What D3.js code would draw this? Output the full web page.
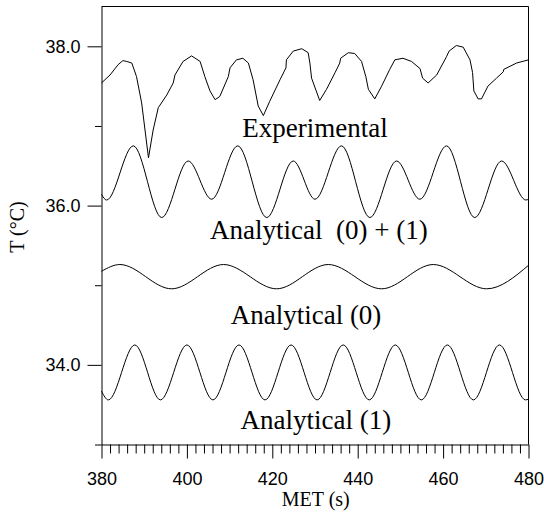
<!DOCTYPE html>
<html>
<head>
<meta charset="utf-8">
<script src="https://cdn.jsdelivr.net/npm/d3@7"></script>
<style>
    html, body { margin: 0; padding: 0; background: #fff; }
    svg { display: block; }
    .tick text { font-family: "Liberation Sans", Arial, sans-serif; font-size: 18px; fill: #000; }
    .title { font-family: "Liberation Serif", "Times New Roman", serif; fill: #000; }
</style>
</head>
<body>
<script>
// x ticks
const xMajor = [380, 400, 420, 440, 460, 480];
const xMinor = d3.range(382, 480, 2).filter(v => v % 20 !== 0);
// y ticks
const yMajor = [34, 36, 38];
const yMinor = [33, 35, 37];

// Experimental trace (MET s, T degC)
const expTime = [380, 382.0, 383.9, 385.0, 385.9, 387.1, 388.2, 389.4, 391.0, 392.1, 393.3, 395.3, 396.8, 397.2,
    399.1, 401.1, 403.1, 404.2, 405.4, 406.6, 407.7, 409.7, 410.1, 411.6, 413.1, 414.4, 415.5, 416.7, 417.9,
    419.4, 421.8, 423.2, 423.3, 424.9, 426.9, 428.4, 428.8, 429.2, 431.1, 432.7, 434.7, 435.8, 436.0, 437.8,
    439.3, 440.9, 441.9, 442.5, 444.0, 445.6, 447.5, 448.7, 450.6, 452.6, 454.6, 455.2, 456.5, 458.5, 460.8,
    461.4, 463.1, 464.7, 466.3, 466.9, 467.2, 468.2, 469.0, 470.5, 472.5, 474.1, 474.2, 477.2, 480];
const expTemp = [37.54, 37.64, 37.77, 37.82, 37.81, 37.79, 37.62, 37.29, 36.60, 36.95, 37.23, 37.39, 37.54, 37.64,
    37.81, 37.88, 37.81, 37.62, 37.44, 37.33, 37.37, 37.62, 37.73, 37.83, 37.85, 37.79, 37.58, 37.25, 37.13,
    37.31, 37.58, 37.73, 37.83, 37.94, 37.97, 37.92, 37.79, 37.60, 37.32, 37.46, 37.67, 37.79, 37.85, 37.92,
    37.91, 37.81, 37.62, 37.46, 37.34, 37.50, 37.71, 37.83, 37.85, 37.81, 37.72, 37.60, 37.54, 37.64, 37.87,
    37.94, 38.01, 37.99, 37.83, 37.67, 37.44, 37.34, 37.34, 37.50, 37.60, 37.68, 37.71, 37.79, 37.83];

// Analytical (0) + (1): turning points
const sumTime = [380, 381.2, 387.45, 394.1, 400.3, 405.8, 411.9, 418.7, 424.9, 430.0, 436.2, 442.85, 449.1,
    454.55, 460.8, 467.4, 473.7, 479.4, 480];
const sumTemp = [36.14, 36.07, 36.75, 35.85, 36.56, 36.08, 36.75, 35.85, 36.56, 36.08, 36.75, 35.85, 36.56,
    36.08, 36.75, 35.85, 36.56, 36.07, 36.08];

// Analytical (0): turning points
const a0Time = [380, 384.3, 396.4, 408.6, 421.0, 433.1, 445.6, 457.7, 470.2, 480];
const a0Temp = [35.175, 35.26, 34.955, 35.26, 34.955, 35.26, 34.955, 35.26, 34.955, 35.25];

// Analytical (1): turning points
const a1Time = [380, 381.6, 387.8, 393.8, 400.0, 406.1, 412.2, 418.3, 424.4, 430.5, 436.6, 442.7, 448.8,
    454.9, 461.0, 467.1, 473.2, 479.3, 480];
const a1Temp = [33.67, 33.56, 34.25, 33.56, 34.25, 33.56, 34.25, 33.56, 34.25, 33.56, 34.25, 33.56, 34.25,
    33.56, 34.25, 33.56, 34.25, 33.56, 33.57];

const labels = ["Experimental", "Analytical  (0) + (1)", "Analytical (0)", "Analytical (1)"];
const labelAt = [[430.0, 36.86], [430.9, 35.58], [427.9, 34.51], [430.2, 33.19]];

const width = 544;
const height = 513;
const margin = { left: 101.5, top: 6.5, right: 15.5, bottom: 68.5 };
const innerW = width - margin.left - margin.right;
const innerH = height - margin.top - margin.bottom;

const svg = d3.select("body")
    .append("svg")
    .attr("width", width)
    .attr("height", height);

const plot = svg.append("g")
    .attr("transform", `translate(${margin.left},${margin.top})`);

const scaleX = d3.scaleLinear().domain([380, 480]).range([0, innerW]);
const scaleY = d3.scaleLinear().domain([33, 38.5]).range([innerH, 0]);

// frame top and right
plot.append("path")
    .attr("d", `M0,0H${innerW}V${innerH}`)
    .attr("fill", "none")
    .attr("stroke", "#000")
    .attr("stroke-width", 1);

// x axis
plot.append("g")
    .attr("transform", `translate(0,${innerH})`)
    .call(d3.axisBottom(scaleX).tickValues(xMajor).tickFormat(d3.format("d"))
        .tickSize(14).tickSizeOuter(0).tickPadding(13.5));
plot.append("g")
    .attr("transform", `translate(0,${innerH})`)
    .call(d3.axisBottom(scaleX).tickValues(xMinor).tickFormat("").tickSize(9))
    .call(g => g.select(".domain").remove());

// y axis
plot.append("g")
    .call(d3.axisLeft(scaleY).tickValues(yMajor).tickFormat(d3.format(".1f"))
        .tickSize(14).tickSizeOuter(0).tickPadding(7));
plot.append("g")
    .call(d3.axisLeft(scaleY).tickValues(yMinor).tickFormat("").tickSize(6.5))
    .call(g => g.select(".domain").remove());

plot.selectAll(".domain, .tick line").attr("stroke", "#000");

// curves
const series = [
    { t: expTime, v: expTemp, curve: d3.curveLinear },
    { t: sumTime, v: sumTemp, curve: d3.curveMonotoneX },
    { t: a0Time, v: a0Temp, curve: d3.curveMonotoneX },
    { t: a1Time, v: a1Temp, curve: d3.curveMonotoneX }
];

series.forEach(s => {
    const line = d3.line()
        .x(d => scaleX(d[0]))
        .y(d => scaleY(d[1]))
        .curve(s.curve);
    plot.append("path")
        .datum(s.t.map((t, i) => [t, s.v[i]]))
        .attr("d", line)
        .attr("fill", "none")
        .attr("stroke", "#000")
        .attr("stroke-width", 1);
});

// series labels
plot.selectAll(".series-label")
    .data(labels)
    .enter()
    .append("text")
    .attr("class", "title series-label")
    .attr("x", (d, i) => scaleX(labelAt[i][0]))
    .attr("y", (d, i) => scaleY(labelAt[i][1]))
    .attr("text-anchor", "middle")
    .style("font-size", "27px")
    .style("white-space", "pre")
    .text(d => d);

// axis titles
svg.append("text")
    .attr("class", "title")
    .attr("x", 315.8)
    .attr("y", 505.5)
    .attr("text-anchor", "middle")
    .style("font-size", "20px")
    .text("MET (s)");

svg.append("text")
    .attr("class", "title")
    .attr("transform", "translate(23.5,227) rotate(-90)")
    .attr("text-anchor", "middle")
    .style("font-size", "20px")
    .text("T (°C)");
</script>
</body>
</html>
